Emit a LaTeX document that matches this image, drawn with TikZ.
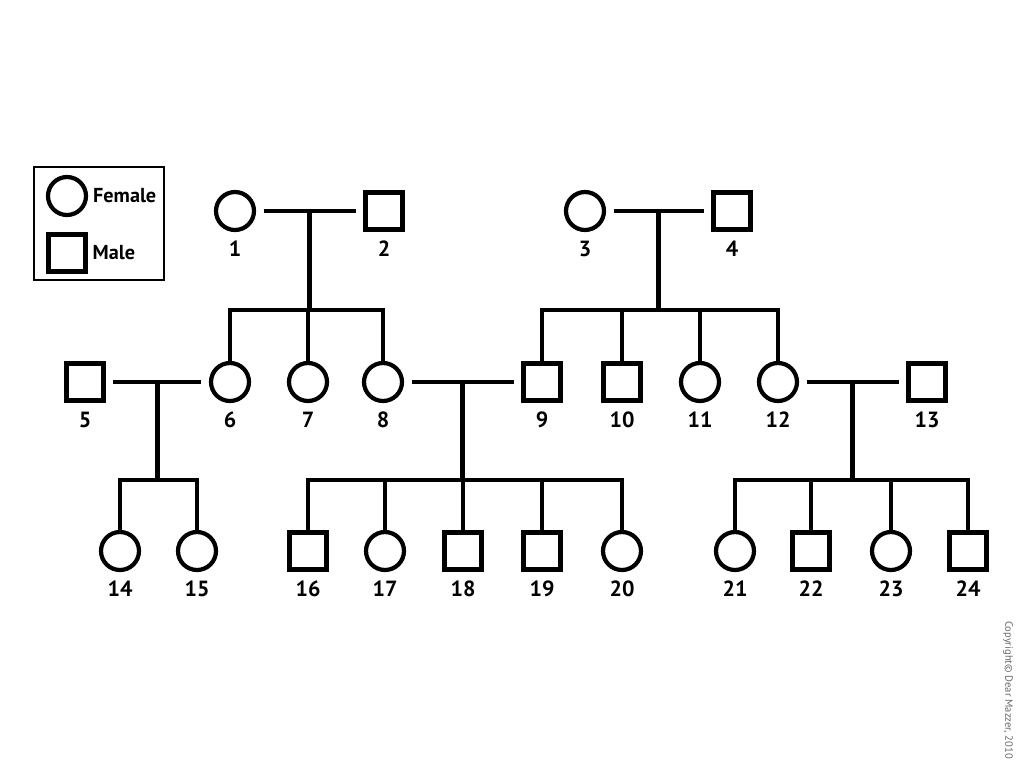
\documentclass[tikz,border=0pt]{standalone}
\usepackage{fontspec}
\setmainfont{PT Sans}
\usetikzlibrary{calc, positioning}

\tikzset{
    person/.style={draw, line width=2.4pt, inner sep=0pt},
    female/.style={person, circle, minimum size=0.76cm},
    male/.style={person, rectangle, minimum size=0.74cm},
    num/.style={font=\fontsize{12.5}{14}\selectfont\bfseries, inner sep=1pt,
        text height=0.7em, text depth=0pt},
    lbl/.style={num, anchor=center, yshift=-0.78cm},
    tie/.style={line width=2.4pt, shorten <=0.15cm, shorten >=0.15cm},
    kin/.style={line width=2.4pt}
}

\begin{document}
\begin{tikzpicture}[x=0.02cm, y=-0.02cm]
    \useasboundingbox (0,0) rectangle (1024,768);

    % legend
    \draw[line width=0.6pt] (34,167) rectangle (164,280);
    \node[female] (lf) at (67,196) {};
    \node[male] (lm) at (67,253) {};
    \node[num, font=\fontsize{11.5}{13}\selectfont\bfseries, right=0.06cm of lf] (lftext) {Female};
    \node[num, font=\fontsize{11.5}{13}\selectfont\bfseries, right=0.06cm of lm] (lmtext) {Male};

    % first generation
    \node[female, label={[lbl]center:1}] (n1) at (235,211) {};
    \node[male, label={[lbl]center:2}] (n2) at (384,211) {};
    \node[female, label={[lbl]center:3}] (n3) at (585,211) {};
    \node[male, label={[lbl]center:4}] (n4) at (732,211) {};

    % second generation
    \node[male, label={[lbl]center:5}] (n5) at (85,382) {};
    \node[female, label={[lbl]center:6}] (n6) at (230,382) {};
    \node[female, label={[lbl]center:7}] (n7) at (308,382) {};
    \node[female, label={[lbl]center:8}] (n8) at (383,382) {};
    \node[male, label={[lbl]center:9}] (n9) at (542,382) {};
    \node[male, label={[lbl]center:10}] (n10) at (622,382) {};
    \node[female, label={[lbl]center:11}] (n11) at (700,382) {};
    \node[female, label={[lbl]center:12}] (n12) at (778,382) {};
    \node[male, label={[lbl]center:13}] (n13) at (927,382) {};

    % third generation
    \node[female, label={[lbl]center:14}] (n14) at (120,551) {};
    \node[female, label={[lbl]center:15}] (n15) at (197,551) {};
    \node[male, label={[lbl]center:16}] (n16) at (308,551) {};
    \node[female, label={[lbl]center:17}] (n17) at (385,551) {};
    \node[male, label={[lbl]center:18}] (n18) at (463,551) {};
    \node[male, label={[lbl]center:19}] (n19) at (542,551) {};
    \node[female, label={[lbl]center:20}] (n20) at (622,551) {};
    \node[female, label={[lbl]center:21}] (n21) at (735,551) {};
    \node[male, label={[lbl]center:22}] (n22) at (811,551) {};
    \node[female, label={[lbl]center:23}] (n23) at (891,551) {};
    \node[male, label={[lbl]center:24}] (n24) at (968,551) {};

    % couples
    \coordinate (m12) at ($(n1)!0.5!(n2)$);
    \coordinate (m34) at ($(n3)!0.5!(n4)$);
    \coordinate (m56) at ($(n5)!0.5!(n6)$);
    \coordinate (m89) at ($(n8)!0.5!(n9)$);
    \coordinate (m1213) at ($(n12)!0.5!(n13)$);
    \coordinate (s12) at (m12 |- 0,310);
    \coordinate (s34) at (m34 |- 0,310);
    \coordinate (s56) at (m56 |- 0,480);
    \coordinate (s89) at (m89 |- 0,480);
    \coordinate (s1213) at (m1213 |- 0,480);

    \draw[tie] (n1) -- (n2);
    \draw[tie] (n3) -- (n4);
    \draw[tie] (n5) -- (n6);
    \draw[tie] (n8) -- (n9);
    \draw[tie] (n12) -- (n13);
    \draw[kin] (m12) -- (s12)
        (m34) -- (s34)
        (m56) -- (s56)
        (m89) -- (s89)
        (m1213) -- (s1213);

    % children
    \foreach \c in {n6, n8}
        \draw[kin] (s12) -| (\c.north);
    \draw[kin] (s12 -| n7) -- (n7.north);
    \foreach \c in {n9, n12}
        \draw[kin] (s34) -| (\c.north);
    \foreach \c in {n10, n11}
        \draw[kin] (s34 -| \c) -- (\c.north);
    \foreach \c in {n14, n15}
        \draw[kin] (s56) -| (\c.north);
    \foreach \c in {n16, n20}
        \draw[kin] (s89) -| (\c.north);
    \foreach \c in {n17, n18, n19}
        \draw[kin] (s89 -| \c) -- (\c.north);
    \foreach \c in {n21, n24}
        \draw[kin] (s1213) -| (\c.north);
    \foreach \c in {n22, n23}
        \draw[kin] (s1213 -| \c) -- (\c.north);

    \node[rotate=-90, font=\fontsize{6}{7}\selectfont, text=black!60] (copy) at (1008,690) {Copyright© Dear Mazzer, 2010};
\end{tikzpicture}
\end{document}
